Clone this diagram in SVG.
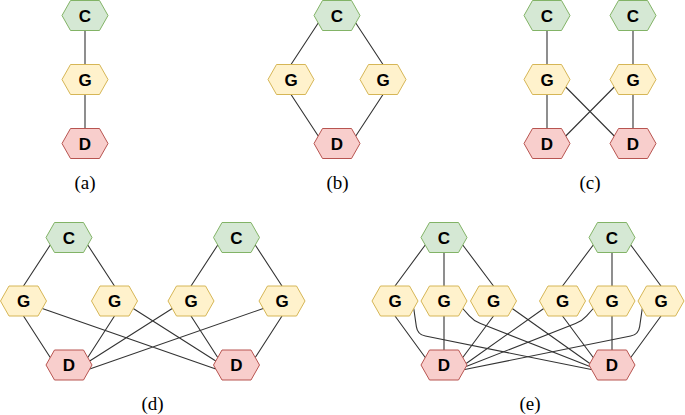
<svg xmlns="http://www.w3.org/2000/svg" xmlns:xlink="http://www.w3.org/1999/xlink" width="685" height="415" viewBox="0 0 685 415">
<style>
.c{fill:#d5e8d4;stroke:#82b366;stroke-width:1}
.g{fill:#fff2cc;stroke:#d6b656;stroke-width:1}
.d{fill:#f8cecc;stroke:#b85450;stroke-width:1}
.n text{font-family:"Liberation Sans",Arial,sans-serif;font-weight:bold;font-size:17px;text-anchor:middle;fill:#000}
.e path{fill:none;stroke:#333;stroke-width:1.1}
.lbl{font-family:"Liberation Serif","Times New Roman",serif;font-size:19px;text-anchor:middle;fill:#000}
</style>
<defs>
<polygon id="hex" points="-23,0 -14.5,-15 14.5,-15 23,0 14.5,15 -14.5,15"/>
</defs>
<rect width="685" height="415" fill="#fff"/>
<g id="connectors" class="e">
<!-- (a) -->
<path d="M85,30.5V64.5M85,94.5V128.5"/>
<!-- (b) -->
<path d="M318.25,23L291,64.5M355.75,23L383,64.5M291,94.5L318.25,136M383,94.5L355.75,136"/>
<!-- (c) -->
<path d="M547,30.5V64.5M633,30.5V64.5M547,94.5V128.5M633,94.5V128.5M565.75,87L614.25,136M614.25,87L565.75,136"/>
<!-- (d) -->
<path d="M50.25,245L23.5,286M87.75,245L114.5,286M217.75,245L191,286M255.25,245L282,286"/>
<path d="M23.5,316L50.25,357.5M114.5,316L87.75,357.5M191,316L217.75,357.5M282,316L255.25,357.5"/>
<path d="M42.25,308.5L215.8,369M133.25,308.5L215.8,361M172.25,308.5L89.7,361M263.25,308.5L89.7,369"/>
<!-- (e) -->
<path d="M425.25,245L395,286M444,252.5V286M462.75,245L493.5,286M593.25,245L562.5,286M612,252.5V286M630.75,245L661,286"/>
<path d="M395,316L425.25,357.5M444,316V350M493.5,316L462.75,357.5M562.5,316L593.25,357.5M612,316V350M661,316L630.75,357.5"/>
<path d="M512.25,308.5L589.85,363.5M543.75,308.5L466.15,363.5"/>
<path d="M413.75,308.5L416.36,326.58Q417.5,334.5 425.34,336.08L591.3,369.5"/>
<path d="M642.25,308.5L639.64,326.58Q638.5,334.5 630.66,336.08L464.7,369.5"/>
<path d="M462.75,308.5L469.32,315.8Q474,321 480.5,323.56L589.9,366.5"/>
<path d="M593.25,308.5L586.68,315.8Q582,321 575.5,323.56L466.1,366.5"/>
</g>
<!-- (a) nodes -->
<g id="a-C" class="n" transform="translate(85,15.5)"><use xlink:href="#hex" class="c"/><text y="6">C</text></g>
<g id="a-G" class="n" transform="translate(85,79.5)"><use xlink:href="#hex" class="g"/><text y="6">G</text></g>
<g id="a-D" class="n" transform="translate(85,143.5)"><use xlink:href="#hex" class="d"/><text y="6">D</text></g>
<!-- (b) nodes -->
<g id="b-C" class="n" transform="translate(337,15.5)"><use xlink:href="#hex" class="c"/><text y="6">C</text></g>
<g id="b-G1" class="n" transform="translate(291,79.5)"><use xlink:href="#hex" class="g"/><text y="6">G</text></g>
<g id="b-G2" class="n" transform="translate(383,79.5)"><use xlink:href="#hex" class="g"/><text y="6">G</text></g>
<g id="b-D" class="n" transform="translate(337,143.5)"><use xlink:href="#hex" class="d"/><text y="6">D</text></g>
<!-- (c) nodes -->
<g id="c-C1" class="n" transform="translate(547,15.5)"><use xlink:href="#hex" class="c"/><text y="6">C</text></g>
<g id="c-C2" class="n" transform="translate(633,15.5)"><use xlink:href="#hex" class="c"/><text y="6">C</text></g>
<g id="c-G1" class="n" transform="translate(547,79.5)"><use xlink:href="#hex" class="g"/><text y="6">G</text></g>
<g id="c-G2" class="n" transform="translate(633,79.5)"><use xlink:href="#hex" class="g"/><text y="6">G</text></g>
<g id="c-D1" class="n" transform="translate(547,143.5)"><use xlink:href="#hex" class="d"/><text y="6">D</text></g>
<g id="c-D2" class="n" transform="translate(633,143.5)"><use xlink:href="#hex" class="d"/><text y="6">D</text></g>
<!-- (d) nodes -->
<g id="d-C1" class="n" transform="translate(69,237.5)"><use xlink:href="#hex" class="c"/><text y="6">C</text></g>
<g id="d-C2" class="n" transform="translate(236.5,237.5)"><use xlink:href="#hex" class="c"/><text y="6">C</text></g>
<g id="d-G1" class="n" transform="translate(23.5,301)"><use xlink:href="#hex" class="g"/><text y="6">G</text></g>
<g id="d-G2" class="n" transform="translate(114.5,301)"><use xlink:href="#hex" class="g"/><text y="6">G</text></g>
<g id="d-G3" class="n" transform="translate(191,301)"><use xlink:href="#hex" class="g"/><text y="6">G</text></g>
<g id="d-G4" class="n" transform="translate(282,301)"><use xlink:href="#hex" class="g"/><text y="6">G</text></g>
<g id="d-D1" class="n" transform="translate(69,365)"><use xlink:href="#hex" class="d"/><text y="6">D</text></g>
<g id="d-D2" class="n" transform="translate(236.5,365)"><use xlink:href="#hex" class="d"/><text y="6">D</text></g>
<!-- (e) nodes -->
<g id="e-C1" class="n" transform="translate(444,237.5)"><use xlink:href="#hex" class="c"/><text y="6">C</text></g>
<g id="e-C2" class="n" transform="translate(612,237.5)"><use xlink:href="#hex" class="c"/><text y="6">C</text></g>
<g id="e-G1" class="n" transform="translate(395,301)"><use xlink:href="#hex" class="g"/><text y="6">G</text></g>
<g id="e-G2" class="n" transform="translate(444,301)"><use xlink:href="#hex" class="g"/><text y="6">G</text></g>
<g id="e-G3" class="n" transform="translate(493.5,301)"><use xlink:href="#hex" class="g"/><text y="6">G</text></g>
<g id="e-G4" class="n" transform="translate(562.5,301)"><use xlink:href="#hex" class="g"/><text y="6">G</text></g>
<g id="e-G5" class="n" transform="translate(612,301)"><use xlink:href="#hex" class="g"/><text y="6">G</text></g>
<g id="e-G6" class="n" transform="translate(661,301)"><use xlink:href="#hex" class="g"/><text y="6">G</text></g>
<g id="e-D1" class="n" transform="translate(444,365)"><use xlink:href="#hex" class="d"/><text y="6">D</text></g>
<g id="e-D2" class="n" transform="translate(612,365)"><use xlink:href="#hex" class="d"/><text y="6">D</text></g>
<!-- captions -->
<text class="lbl" x="85" y="189">(a)</text>
<text class="lbl" x="337.5" y="189">(b)</text>
<text class="lbl" x="590" y="189">(c)</text>
<text class="lbl" x="152.5" y="409.5">(d)</text>
<text class="lbl" x="530" y="409.5">(e)</text>
</svg>
